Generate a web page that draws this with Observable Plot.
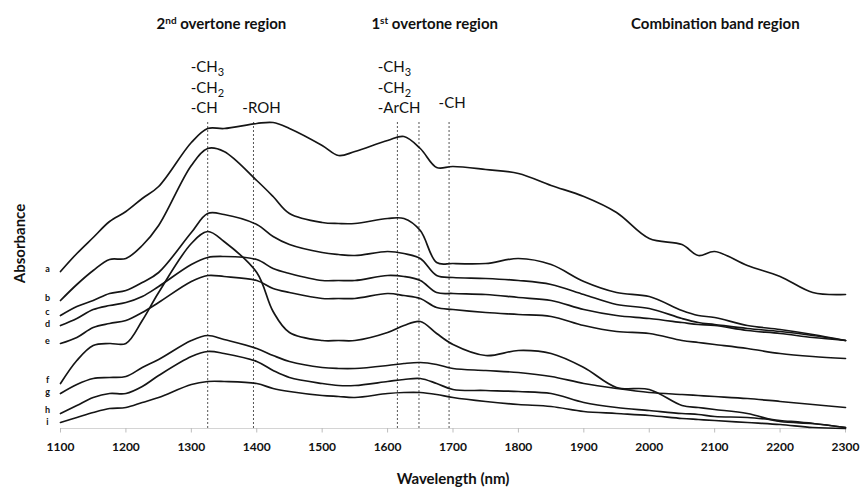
<!DOCTYPE html>
<html>
<head>
<meta charset="utf-8">
<script src="https://cdn.jsdelivr.net/npm/d3@7"></script>
<script src="https://cdn.jsdelivr.net/npm/@observablehq/plot@0.6"></script>
<style>
  body { margin: 0; background: #fff; }
  #chart svg { display: block; }
</style>
</head>
<body>
<div id="chart"></div>
<script>
// Wavelength grid (nm)
const wavelengths = [1100,1125,1150,1175,1200,1225,1250,1300,1325,1350,1400,1425,1450,1500,1525,1550,1600,1625,1650,1675,1700,1750,1800,1850,1900,1950,2000,2050,2075,2100,2150,2200,2250,2300];

// Absorbance (arbitrary, offset spectra)
const a = [1.57,1.75,1.91,2.07,2.17,2.30,2.42,2.86,3.00,3.00,3.05,3.06,3.00,2.83,2.73,2.77,2.88,2.92,2.80,2.61,2.62,2.59,2.55,2.43,2.32,2.16,1.90,1.84,1.73,1.77,1.63,1.52,1.36,1.34];
const b = [1.28,1.44,1.58,1.69,1.70,1.83,2.03,2.63,2.80,2.77,2.48,2.32,2.15,2.06,2.05,2.05,2.10,2.10,1.98,1.66,1.65,1.65,1.70,1.64,1.47,1.36,1.32,1.18,1.13,1.11,1.03,0.99,0.94,0.88];
const c = [1.13,1.22,1.28,1.35,1.38,1.46,1.56,1.96,2.15,2.14,2.04,1.92,1.84,1.76,1.74,1.73,1.77,1.75,1.70,1.53,1.51,1.50,1.48,1.44,1.34,1.24,1.20,1.10,1.06,1.04,1.00,0.97,0.93,0.88];
const d = [1.03,1.10,1.19,1.23,1.26,1.32,1.42,1.64,1.71,1.72,1.69,1.60,1.55,1.48,1.48,1.48,1.53,1.52,1.48,1.36,1.35,1.34,1.31,1.28,1.19,1.13,1.10,1.06,1.04,1.03,0.98,0.95,0.91,0.88];
const e = [0.85,0.91,1.01,1.05,1.08,1.16,1.26,1.47,1.53,1.52,1.48,1.40,1.36,1.30,1.30,1.30,1.35,1.33,1.30,1.21,1.19,1.16,1.14,1.12,1.03,0.97,0.95,0.88,0.86,0.84,0.80,0.75,0.72,0.70];
const f = [0.45,0.68,0.83,0.85,0.85,1.08,1.36,1.85,1.97,1.87,1.56,1.17,0.96,0.88,0.88,0.88,0.96,1.03,1.07,0.95,0.84,0.73,0.78,0.75,0.61,0.41,0.39,0.23,0.21,0.19,0.15,0.07,0.05,0.01];
const g = [0.35,0.44,0.50,0.51,0.52,0.61,0.69,0.88,0.93,0.89,0.80,0.73,0.67,0.61,0.60,0.60,0.63,0.65,0.66,0.64,0.60,0.58,0.56,0.52,0.45,0.40,0.36,0.34,0.33,0.32,0.30,0.27,0.24,0.21];
const h = [0.15,0.23,0.31,0.35,0.35,0.42,0.53,0.72,0.77,0.75,0.67,0.58,0.51,0.45,0.43,0.43,0.47,0.49,0.50,0.45,0.39,0.38,0.37,0.35,0.26,0.21,0.18,0.15,0.14,0.12,0.11,0.08,0.05,0.01];
const i_ = [0.06,0.11,0.16,0.20,0.21,0.26,0.31,0.44,0.47,0.47,0.45,0.40,0.37,0.33,0.32,0.31,0.35,0.36,0.36,0.34,0.31,0.27,0.24,0.22,0.17,0.15,0.13,0.10,0.09,0.08,0.06,0.04,0.01,0.00];

const seriesNames = ["a","b","c","d","e","f","g","h","i"];
const seriesValues = [a,b,c,d,e,f,g,h,i_];

// Axis ticks
const xTicks = [1100,1200,1300,1400,1500,1600,1700,1800,1900,2000,2100,2200,2300];

// Band assignment lines (nm)
const bandLines = [1325,1395,1615,1648,1694];

// Region titles
const regionTitles = ["2nd overtone region","1st overtone region","Combination band region"];
const regionCenters = [1346,1672,2101];

// Band annotations
const annText = ["-CH3","-CH2","-CH","-ROH","-CH3","-CH2","-ArCH","-CH"];
const annX    = [1299,1299,1299,1378,1585,1585,1585,1678];
const annRow  = [0,1,2,2,0,1,2,2];

// Build tidy table
const rows = seriesNames.flatMap((n, k) => wavelengths.map((w, j) => ({name: n, w, A: seriesValues[k][j]})));

// Curve labels at the start of each spectrum, spread apart slightly so they don't collide
const labels = seriesNames.map((n, k) => ({name: n, w: wavelengths[0], A: seriesValues[k][0] + 0.02}));
const minGap = 0.12;
for (let it = 0; it < 20; it++) {
  for (let k = 0; k < labels.length - 1; k++) {
    const gap = labels[k].A - labels[k + 1].A;
    if (gap < minGap) {
      const s = (minGap - gap) / 2;
      labels[k].A += s;
      labels[k + 1].A -= s;
    }
  }
}

const ann = annText.map((t, k) => ({text: t, x: annX[k], row: annRow[k], right: k === 7}));

const annMarks = [0,1,2].map(r => Plot.text(ann.filter(o => o.row === r && !o.right), {
  x: "x", text: "text", frameAnchor: "top", dy: 67 + 20.5 * r,
  textAnchor: "start", lineAnchor: "middle", fontSize: 15, fontWeight: "normal", fill: "#111"
}));

const chart = Plot.plot({
  width: 861,
  height: 489,
  marginLeft: 60,
  marginRight: 16,
  marginTop: 0,
  marginBottom: 61,
  style: {fontFamily: "Lato, 'Open Sans', sans-serif", background: "#fff", color: "#111"},
  x: {domain: [1100, 2300], axis: null},
  y: {domain: [0, 3.1], range: [428, 118], axis: null},
  marks: [
    Plot.ruleY([0], {stroke: "#d4d4d4", strokeWidth: 1}),
    Plot.ruleX(xTicks, {x: t => t, y1: 0, y2: -0.045, stroke: "#bdbdbd"}),
    Plot.ruleX(bandLines, {x: t => t, y1: 0, y2: 3.08, stroke: "#555", strokeWidth: 1, strokeDasharray: "2,2"}),
    Plot.line(rows, {x: "w", y: "A", z: "name", curve: "catmull-rom", stroke: "#151515", strokeWidth: 1.7}),
    Plot.text(xTicks, {x: t => t, y: 0, dy: 19, text: t => String(t), fontWeight: "bold", fontSize: 12, fill: "#111"}),
    Plot.text(labels, {x: "w", y: "A", text: "name", dx: -13, fontWeight: "bold", fontSize: 9, fill: "#111"}),
    Plot.text(["Absorbance"], {frameAnchor: "left", dx: -40, y: 1.85, rotate: -90, textAnchor: "middle", lineAnchor: "middle", fontWeight: "bold", fontSize: 15, fill: "#111"}),
    Plot.text(["Wavelength (nm)"], {x: 1700, frameAnchor: "bottom", dy: 51, textAnchor: "middle", lineAnchor: "middle", fontWeight: "bold", fontSize: 15, fill: "#111"}),
    Plot.text(regionTitles, {x: (t, k) => regionCenters[k], frameAnchor: "top", dy: 24, textAnchor: "middle", lineAnchor: "middle", fontWeight: "bold", fontSize: 15, fill: "#111"}),
    ...annMarks,
    Plot.text(ann.filter(o => o.right), {x: "x", text: "text", frameAnchor: "top", dy: 103, textAnchor: "start", lineAnchor: "middle", fontSize: 15, fontWeight: "normal", fill: "#111"})
  ]
});

// Superscripts / subscripts as real text
d3.select(chart).selectAll("text").each(function() {
  const el = d3.select(this);
  const t = this.textContent;
  let m;
  if ((m = t.match(/^(\d)(nd|st)( .*)$/))) {
    el.text(null);
    el.append("tspan").text(m[1]);
    el.append("tspan").attr("dy", -5).attr("font-size", 10).text(m[2]);
    el.append("tspan").attr("dy", 5).text(m[3]);
  } else if ((m = t.match(/^(-CH)(\d)$/))) {
    el.text(null);
    el.append("tspan").text(m[1]);
    el.append("tspan").attr("dy", 4).attr("font-size", 11).text(m[2]);
  }
});

document.getElementById("chart").appendChild(chart);
</script>
</body>
</html>
